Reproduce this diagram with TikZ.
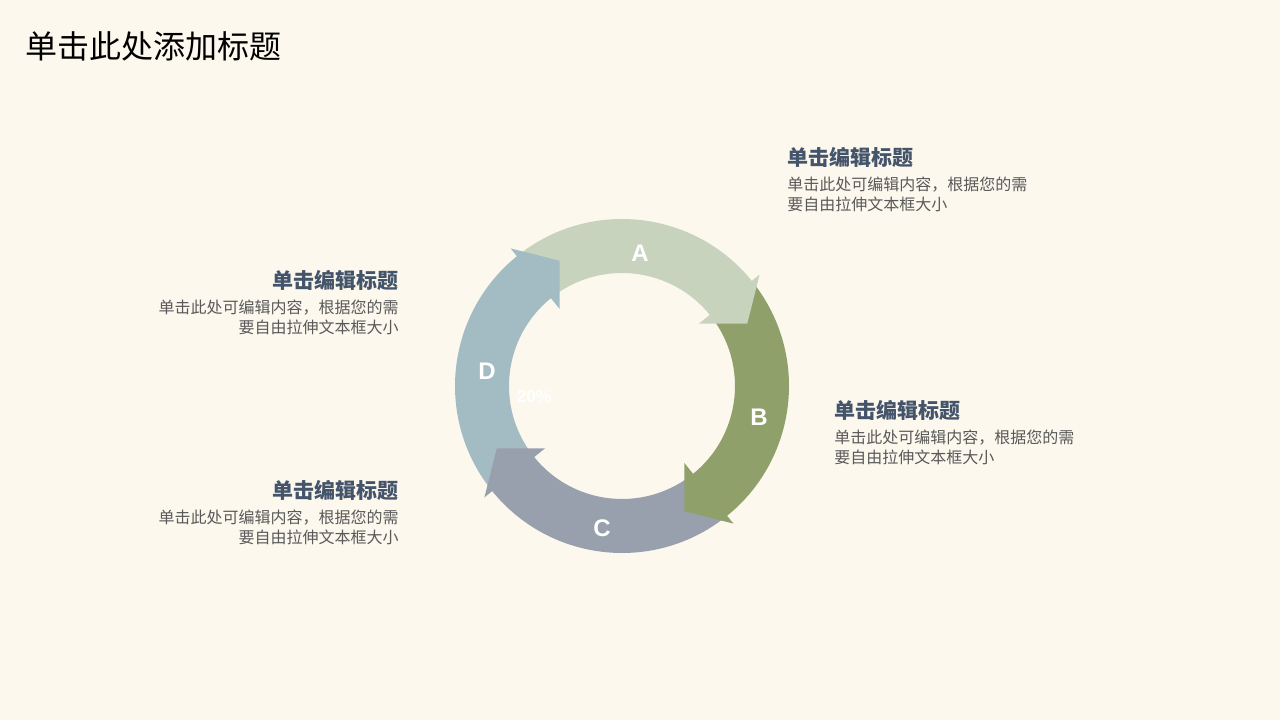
\documentclass[tikz,border=0pt]{standalone}
\usepackage{fontspec}
\setmainfont{Liberation Sans}
\newfontfamily\cjk{Noto Sans CJK SC}
\definecolor{bgcol}{HTML}{FCF8EE}
\definecolor{ringA}{HTML}{C8D3BD}
\definecolor{ringB}{HTML}{8FA06A}
\definecolor{ringC}{HTML}{99A0AD}
\definecolor{ringD}{HTML}{A3BCC3}
\definecolor{headcol}{HTML}{44546A}
\definecolor{bodycol}{HTML}{595959}
\tikzset{
  titletext/.style={anchor=base west, inner sep=0pt, font=\cjk\fontsize{24}{28}\selectfont, text=black},
  headR/.style={anchor=base west, inner sep=0pt, font=\cjk\bfseries\fontsize{15.75}{18}\selectfont, text=headcol},
  headL/.style={anchor=base east, inner sep=0pt, font=\cjk\bfseries\fontsize{15.75}{18}\selectfont, text=headcol},
  bodyR/.style={anchor=base west, inner sep=0pt, font=\cjk\fontsize{12}{15}\selectfont, text=bodycol},
  bodyL/.style={anchor=base east, inner sep=0pt, font=\cjk\fontsize{12}{15}\selectfont, text=bodycol},
  letter/.style={inner sep=0pt, font=\bfseries\fontsize{18}{20}\selectfont, text=white},
  pct/.style={inner sep=0pt, font=\bfseries\fontsize{13}{15}\selectfont, text=white}
}
\begin{document}
\begin{tikzpicture}[x=0.75pt,y=0.75pt]
\fill[bgcol] (0,0) rectangle (1280,720);
\useasboundingbox (0,0) rectangle (1280,720);

% title
\node[titletext] (title) at (25,661) {单击此处添加标题};

% ring
\begin{scope}[shift={(622,334)}]
  \foreach \b/\c in {39/ringA,-51/ringB,-141/ringC,-231/ringD}{
    \pgfmathsetmacro{\ta}{\b+89}
    \pgfmathsetmacro{\te}{\b-0.5}
    \fill[\c] (\ta:113) arc[start angle=\ta, end angle=\te, radius=113]
      -- (\te:167) arc[start angle=\te, end angle=\ta, radius=167] -- cycle;
  }
  \foreach \b/\c in {39/ringA,-51/ringB,-141/ringC,-231/ringD}{
    \pgfmathsetmacro{\tp}{\b-12.5}
    \fill[\c] (\b:177) -- (\tp:140) -- (\b:99) -- cycle;
  }
\end{scope}

\node[letter] (lA) at (640,467) {A};
\node[letter] (lB) at (759,303) {B};
\node[letter] (lC) at (602,192) {C};
\node[letter] (lD) at (487,349) {D};
\node[pct] (p20) at (534,323) {20\%};

% right top
\node[headR] (h1) at (787,554) {单击编辑标题};
\node[bodyR] (b1a) at (787,529) {单击此处可编辑内容，根据您的需};
\node[bodyR] (b1b) at (787,509) {要自由拉伸文本框大小};

% right middle
\node[headR] (h2) at (834,301) {单击编辑标题};
\node[bodyR] (b2a) at (834,276) {单击此处可编辑内容，根据您的需};
\node[bodyR] (b2b) at (834,256) {要自由拉伸文本框大小};

% left top
\node[headL] (h3) at (399,431) {单击编辑标题};
\node[bodyL] (b3a) at (399,406) {单击此处可编辑内容，根据您的需};
\node[bodyL] (b3b) at (399,386) {要自由拉伸文本框大小};

% left bottom
\node[headL] (h4) at (399,221) {单击编辑标题};
\node[bodyL] (b4a) at (399,196) {单击此处可编辑内容，根据您的需};
\node[bodyL] (b4b) at (399,176) {要自由拉伸文本框大小};
\end{tikzpicture}
\end{document}
